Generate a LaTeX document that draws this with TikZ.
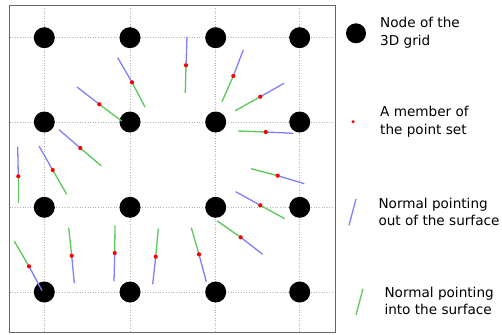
\documentclass[tikz,border=0pt]{standalone}
\usepackage{fontspec}
\setmainfont{DejaVu Sans}
\begin{document}
\begin{tikzpicture}[x=1pt,y=-1pt,
  gridnode/.style={circle,fill=black,inner sep=0pt,minimum size=21pt},
  ptnode/.style={circle,fill=red,inner sep=0pt,minimum size=4.2pt},
  outn/.style={draw={rgb,255:red,128;green,128;blue,255},line width=1.3pt},
  inn/.style={draw={rgb,255:red,90;green,200;blue,90},line width=1.3pt},
  gridline/.style={draw=gray!60,dash pattern=on 0.8pt off 1.8pt,line width=0.8pt},
  legtext/.style={anchor=west,align=left,inner sep=0pt,font=\fontsize{13.6}{17.5}\selectfont}]
\useasboundingbox (0,0) rectangle (502,334);
% dotted grid lines
\foreach \gx in {44.3,130,215.7,299.7}
  \draw[gridline] (\gx,5.5) -- (\gx,332.5);
\foreach \gy in {37.7,122,207.3,292}
  \draw[gridline] (9.5,\gy) -- (335.5,\gy);
% plot frame
\draw[draw=black!60,line width=1.1pt] (9.5,5.5) rectangle (335.5,332.5);
% nodes of the 3D grid
\foreach \gx [count=\i] in {44.3,130,215.7,299.7}
  \foreach \gy [count=\j] in {37.7,122,207.3,292}
    \node[gridnode] (g\i\j) at (\gx,\gy) {};
% point set with outward (blue) and inward (green) normals
\foreach \n/\px/\py/\ox/\oy/\ix/\iy in {
  1/132/82.3/117.7/57.7/145/107,
  2/99.3/104.3/77/87/121.7/121,
  3/186/65.3/187/36.7/185.3/93,
  4/233.3/76/243.3/50/222/101.7,
  5/260.3/96.7/284/83.3/235.3/110.7,
  6/265.7/132/293.3/133.3/238/131,
  7/80.3/148/59/129.7/101.3/166,
  8/18.3/176.3/17.7/146.7/18.3/202.7,
  9/52.7/170/39/146/66.7/194.3,
  10/277.7/175.7/304.3/183.7/251/168.7,
  11/260.3/205.3/235.7/191.7/284.7/218.7,
  12/240.7/237.3/262.7/254.3/217.3/221,
  13/29/266.3/42/290.7/14.3/241.3,
  14/71.7/255.7/74.3/283.3/68.7/227.7,
  15/114.7/253/114/281.3/115/225.3,
  16/155.7/256.7/152.7/284.3/158.3/228.7,
  17/199/254.3/206.3/281.7/191.3/227.7}{
  \coordinate (o\n) at (\ox,\oy);
  \coordinate (i\n) at (\ix,\iy);
  \coordinate (c\n) at (\px,\py);
  \draw[outn] (c\n) -- (o\n);
  \draw[inn] (c\n) -- (i\n);
  \node[ptnode] (p\n) at (c\n) {};
}
% legend
\node[gridnode,minimum size=20pt] (lg) at (356,33.3) {};
\node[legtext] (tg) at (380,32.5) {Node of the\\3D grid};
\node[ptnode,minimum size=3.4pt] (lp) at (353,121.7) {};
\node[legtext] (tp) at (380,121.7) {A member of\\the point set};
\coordinate (lo1) at (356,199);
\coordinate (lo2) at (349,225.3);
\draw[outn] (lo1) -- (lo2);
\node[legtext] (to) at (378.3,211.7) {Normal pointing\\out of the surface};
\coordinate (li1) at (363,288.7);
\coordinate (li2) at (356,315);
\draw[inn] (li1) -- (li2);
\node[legtext] (ti) at (384.3,300.7) {Normal pointing\\into the surface};
\end{tikzpicture}
\end{document}
